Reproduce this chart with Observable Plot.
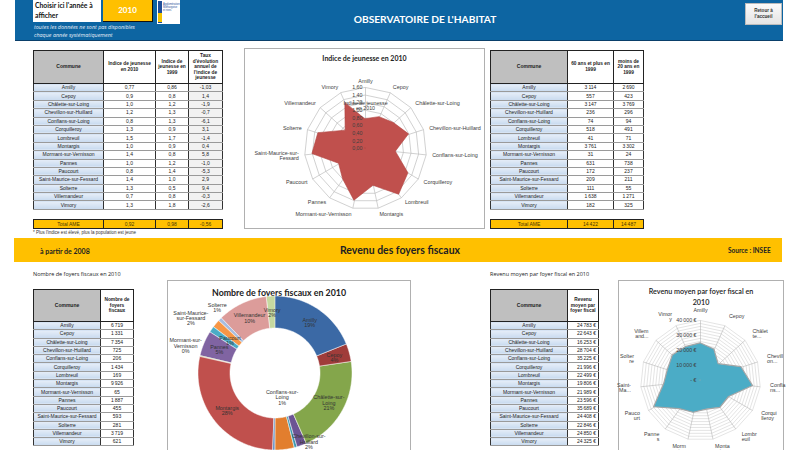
<!DOCTYPE html>
<html lang="fr"><head><meta charset="utf-8">
<script src="https://cdn.jsdelivr.net/npm/d3@7"></script>
<script src="https://cdn.jsdelivr.net/npm/@observablehq/plot@0.6"></script>
<style>
html,body{margin:0;padding:0}
body{width:800px;height:450px;overflow:hidden;position:relative;background:#fff;font-family:"Liberation Sans",Arial,sans-serif;color:#222}
.a{position:absolute}
#hdr{left:15px;top:0;width:768px;height:40px;background:#0d65a2;border-bottom:1.5px solid #0a3f6a}
#choose{left:33px;top:0;width:68px;height:22px;background:#fff;font:bold 6.8px Lato,sans-serif;line-height:9.5px;padding-left:2px;color:#111;box-sizing:border-box;padding-top:1px}
#year{left:103px;top:0;width:49px;height:21px;background:#ffc000;border-right:1.5px solid #111;border-bottom:1.5px solid #111;color:#fff;font:bold 8px Lato,sans-serif;text-align:center;line-height:21px}
#logo{left:157px;top:0;width:23px;height:24px;background:#fff}
#sub{left:34px;top:23px;color:#e6eef7;font:italic 5.4px "Open Sans",sans-serif;line-height:8px}
#title{left:300px;top:13px;width:250px;text-align:center;color:#fff;font:bold 10.2px Lato,sans-serif}
#ret{left:745px;top:3px;width:37px;height:22px;background:linear-gradient(#fafafa,#e4e4e4);border:0.5px solid #bbb;font:bold 4.6px "Liberation Sans",sans-serif;text-align:center;line-height:6px;box-sizing:border-box;padding-top:4px;color:#333}
#band{left:14px;top:238px;width:768px;height:24px;background:#ffc000}
.box{border:1px solid #b0b0b0;box-sizing:border-box;background:#fff}
.ttl{font-family:Lato,sans-serif;font-weight:bold;color:#222;text-align:center}
.tbl{position:absolute;border-collapse:collapse;table-layout:fixed;font-family:"Liberation Sans Narrow","Liberation Sans",Arial,sans-serif;font-size:5px;color:#222;border:1.5px solid #222}
.tbl td,.tbl th{padding:0 1px;overflow:hidden;line-height:1;}
.tbl th{font-weight:bold;white-space:normal;background:#fff;border:1px solid #222;font-size:4.8px;line-height:5.6px}
.tbl th.c{background:#bfbfbf;font-size:5px}
.tbl td{border-left:1px solid #333;border-right:1px solid #333;border-bottom:0.6px solid #9a9a9a;text-align:center;background:#fff;white-space:nowrap}
.tbl td.c{background:linear-gradient(#e6eef8,#c8daef)}
.tbl td.g{background:#f2f2f2}
.tbl td.r{text-align:right;padding-right:2px}
.tot td{background:#ffc000 !important;color:#4a3800;border:1px solid #222}
.lab{font:5.5px "Open Sans",sans-serif;color:#222}
</style></head><body>
<div id="hdr" class="a"></div>
<div id="choose" class="a">Choisir ici l'année à<br>afficher</div>
<div id="year" class="a">2010</div>
<div id="logo" class="a"><svg width="23" height="24"><rect x="1" y="1" width="4" height="22" fill="#1f4e9a"/><rect x="1" y="13" width="4" height="9" fill="#f5c400"/><text x="6" y="5" font-size="2.6" fill="#1f4e9a" font-family="Liberation Sans">Agglomération</text><text x="6" y="8" font-size="2.6" fill="#1f4e9a" font-family="Liberation Sans">Montargoise</text><text x="6" y="11" font-size="2.6" fill="#1f4e9a" font-family="Liberation Sans">et rives</text></svg></div>
<div id="sub" class="a">toutes les données ne sont pas disponibles<br>chaque année systématiquement</div>
<div id="title" class="a">OBSERVATOIRE DE L'HABITAT</div>
<div id="ret" class="a">Retour à<br>l'accueil</div>
<div id="band" class="a"></div>
<div class="a" style="left:40px;top:247px;font:bold 7px Lato,sans-serif;color:#222">à partir de 2008</div>
<div class="a ttl" style="left:300px;top:244px;width:200px;font-size:10.5px">Revenu des foyers fiscaux</div>
<div class="a" style="left:728px;top:247px;font:bold 6.5px Lato,sans-serif;color:#222">Source : INSEE</div>
<div class="a" style="left:33px;top:230px;font:4.5px 'Liberation Sans',sans-serif;color:#333">* Plus l'indice est élevé, plus la population est jeune</div>
<div class="a lab" style="left:33px;top:270px">Nombre de foyers fiscaux en 2010</div>
<div class="a lab" style="left:490px;top:270px">Revenu moyen par foyer fiscal en 2010</div>

<div id="box1" class="a box" style="left:244px;top:48px;width:241px;height:181px"></div>
<div class="a ttl" style="left:244px;top:54px;width:241px;font-size:7px">Indice de jeunesse en 2010</div>
<div id="box2" class="a box" style="left:167px;top:280px;width:244px;height:180px"></div>
<div class="a ttl" style="left:167px;top:287px;width:224px;font-size:8.8px">Nombre de foyers fiscaux en 2010</div>
<div id="box3" class="a box" style="left:618px;top:280px;width:166px;height:180px"></div>
<div class="a ttl" style="left:618px;top:286px;width:166px;font-size:7.2px;font-weight:600;line-height:11px">Revenu moyen par foyer fiscal en<br>2010</div>

<script>
// ---------------- DATA ----------------
const communes = ["Amilly","Cepoy","Châlette-sur-Loing","Chevillon-sur-Huillard","Conflans-sur-Loing","Corquilleroy","Lombreuil","Montargis","Mormant-sur-Vernisson","Pannes","Paucourt","Saint-Maurice-sur-Fessard","Solterre","Villemandeur","Vimory"];
const indice2010 = [0.77,0.9,1.0,1.2,0.8,1.3,1.5,1.0,1.4,1.0,0.8,1.4,1.3,0.7,1.3];
const indice1999 = [0.86,0.8,1.2,1.3,1.3,0.9,1.7,0.9,0.8,1.2,1.4,1.0,0.5,0.8,1.8];
const tauxEvolution = [-1.03,1.4,-1.9,-0.7,-6.1,3.1,-1.4,0.4,5.8,-1.0,-5.3,2.9,9.4,-0.3,-2.6];
const totalIndice = [0.92,0.98,-0.56];
const plus60ans1999 = [3114,557,3147,236,74,518,41,3761,31,631,172,209,111,1638,182];
const moins20ans1999 = [2690,423,3769,296,94,491,71,3302,24,738,237,211,55,1271,325];
const totalAges = [14422,14487];
const foyersFiscaux2010 = [6719,1331,7354,725,206,1434,169,9926,65,1887,455,593,281,3719,621];
const revenuMoyen2010 = [24783,22643,16253,28704,35225,21996,22499,19806,21989,23596,35689,24408,22846,24850,24325];
const indiceTicks = [0,0.2,0.4,0.6,0.8,1.0,1.2,1.4,1.6];
const revenuTickLabels = [0,10000,20000,30000,40000];
const revenuGrid = [2000,4000,6000,8000,10000,12000,14000,16000,18000,20000,22000,24000,26000,28000,30000,32000,34000,36000,38000,40000];
const revenuAxisLabels = ["Amilly","Cepoy","Châlet\nte...","Chevill\non...","Confla\nns...","Corqui\nlleroy","Lombr\neuil","Monta\nrgis","Morm\nant-...","Panne\ns","Pauco\nurt","Saint-\nMa...","Solter\nre","Villem\nand...","Vimor\ny"];

// ---------------- FORMATS ----------------
const fr = d3.formatLocale({decimal: ",", thousands: "\u202f", grouping: [3], currency: ["", " €"]});
const fmtInt = fr.format(",d");
const fmt2 = fr.format(".2f");
const fmtDec = v => { const s = String(v); const d = s.includes(".") ? s.split(".")[1].length : 0; return v.toFixed(Math.max(1, d)).replace(".", ","); };
const fmtEur = v => v === 0 ? "- €" : fmtInt(v) + " €";

// ---------------- TABLES ----------------
function makeTable({left, top, widths, headers, rows, cls, headH, rowH}) {
  const t = document.createElement("table");
  t.className = "tbl";
  t.style.left = left + "px"; t.style.top = top + "px"; t.style.width = d3.sum(widths) + "px";
  let h = "<colgroup>" + widths.map(w => `<col style="width:${w}px">`).join("") + "</colgroup>";
  if (headers) h += `<tr style="height:${headH}px">` + headers.map((x, i) => `<th class="${i === 0 ? "c" : ""}">${x}</th>`).join("") + "</tr>";
  rows.forEach(r => { h += `<tr style="height:${rowH}px">` + r.map((v, i) => `<td class="${cls[i]}">${v}</td>`).join("") + "</tr>"; });
  t.innerHTML = h;
  document.body.appendChild(t);
  return t;
}
makeTable({left: 33, top: 50, widths: [70, 52, 33, 34], headH: 33, rowH: 8.4,
  headers: ["Commune", "Indice de jeunesse en 2010", "Indice de jeunesse en 1999", "Taux d'évolution annuel de l'indice de jeunesse"],
  cls: ["c", "", "", "g"],
  rows: communes.map((c, i) => [c, fmtDec(indice2010[i]), fmtDec(indice1999[i]), fmtDec(tauxEvolution[i])])});
makeTable({left: 33, top: 219, widths: [70, 52, 33, 34], rowH: 9, cls: ["", "", "", ""],
  rows: [["Total AME", ...totalIndice.map(fmtDec)]]}).classList.add("tot");
makeTable({left: 490, top: 50, widths: [77, 46, 30], headH: 33, rowH: 8.4,
  headers: ["Commune", "60 ans et plus en 1999", "moins de 20 ans en 1999"],
  cls: ["c", "", ""],
  rows: communes.map((c, i) => [c, fmtInt(plus60ans1999[i]), fmtInt(moins20ans1999[i])])});
makeTable({left: 490, top: 219, widths: [77, 46, 30], rowH: 9, cls: ["", "", ""],
  rows: [["Total AME", ...totalAges.map(fmtInt)]]}).classList.add("tot");
makeTable({left: 33, top: 289, widths: [67, 33], headH: 32, rowH: 8.3,
  headers: ["Commune", "Nombre de foyers fiscaux"], cls: ["c", ""],
  rows: communes.map((c, i) => [c, fmtInt(foyersFiscaux2010[i])])});
makeTable({left: 490, top: 289, widths: [77, 31], headH: 32, rowH: 8.3,
  headers: ["Commune", "Revenu moyen par foyer fiscal"], cls: ["c", "r"],
  rows: communes.map((c, i) => [c, fmtInt(revenuMoyen2010[i]) + " €"])});

// ---------------- POLAR HELPERS (Plot projection) ----------------
const N = communes.length;
const DEG = 0.01; // degrees of arc per pixel in the fitted projection
const lonOf = i => 180 - i * 360 / N;
const latOf = px => 90 - px * DEG;
function polar(width, height, marks, extra = {}) {
  return Plot.plot({
    width, height, margin: 0,
    projection: {type: "azimuthal-equidistant", rotate: [0, -90],
      domain: d3.geoCircle().center([0, 90]).radius(Math.min(width, height) / 2 * DEG)()},
    style: {fontFamily: "'Liberation Sans', Arial, sans-serif", color: "#333", background: "transparent", overflow: "visible"},
    ...extra, marks
  });
}
function wrapName(name, max) {
  const parts = name.match(/[^-]+-?/g); const lines = []; let cur = "";
  for (const p of parts) { if (cur && (cur + p).length > max) { lines.push(cur); cur = p; } else cur += p; }
  lines.push(cur); return lines.join("\n");
}
function spokeLabels(labels, radiusPx, fontSize) {
  const data = labels.map((text, i) => ({text, i, a: i * 360 / N}));
  const groups = [
    [data.filter(d => d.a < 6 || Math.abs(d.a - 180) < 6), "middle"],
    [data.filter(d => d.a >= 6 && d.a < 174), "start"],
    [data.filter(d => d.a > 186 && d.a < 354), "end"]
  ];
  return groups.map(([g, anchor]) => Plot.text(g, {x: d => lonOf(d.i), y: latOf(radiusPx), text: "text", textAnchor: anchor, fontSize, fill: "#404040"}));
}
function place(svg, left, top) {
  svg.style.position = "absolute"; svg.style.left = left + "px"; svg.style.top = top + "px";
  document.body.appendChild(svg);
}

// ---------------- RADAR 1 : Indice de jeunesse ----------------
{
  const r = d3.scaleLinear([0, 1.6], [0, 61]);
  const rows = communes.map((c, i) => ({c, i, v: indice2010[i]}));
  const ring = indiceTicks.filter(t => t > 0).flatMap(t => d3.range(N).map(i => ({t, i})));
  const svg = polar(240, 160, [
    Plot.line(ring, {x: d => lonOf(d.i), y: d => latOf(r(d.t)), z: "t", curve: "linear-closed", stroke: "#bdbdbd", strokeWidth: 0.7}),
    Plot.link(d3.range(N), {x1: lonOf, y1: latOf(r(1.6)), x2: 0, y2: 90, stroke: "#bdbdbd", strokeWidth: 0.7}),
    Plot.area(rows, {x1: d => lonOf(d.i), y1: d => latOf(r(d.v)), x2: 0, y2: 90, curve: "linear-closed", fill: "#c0504d", stroke: "#b0413e", strokeWidth: 0.6}),
    Plot.text(indiceTicks, {x: 180, y: t => latOf(r(t)), text: fmt2, textAnchor: "end", dx: -3, fontSize: 5.3, fill: "#404040"}),
    Plot.text(["Indice de jeunesse\nen 2010"], {x: 180, y: latOf(r(1.12)), text: d => d, fontSize: 5.3, fill: "#404040"}),
    ...spokeLabels(communes.map(c => wrapName(c, 22)), 67, 5.4)
  ]);
  place(svg, 245, 68);
}

// ---------------- DONUT : Nombre de foyers fiscaux ----------------
{
  const R = 77, r0 = 45;
  const total = d3.sum(foyersFiscaux2010);
  const arcs = d3.pie().sort(null).value(d => d)(foyersFiscaux2010).map((a, i) => ({...a, name: communes[i]}));
  const toDeg = rad => rad * 180 / Math.PI;
  const pts = arcs.flatMap(a => {
    const s = toDeg(a.startAngle), e = toDeg(a.endAngle), n = Math.max(2, Math.ceil(e - s) + 1);
    return d3.range(n).map(k => ({name: a.name, lon: 180 - (s + (e - s) * k / (n - 1))}));
  });
  const colors = ["#3b69a5","#a03c3a","#84a64b","#6c5494","#3b97b0","#e27e2e","#4f81bd","#c0504d","#9bbb59","#8064a2","#4bacc6","#f79646","#a7bde0","#dc9c9a","#c6d9a0"];
  // label placement (radius in px, angular shift in degrees) where the labels are pushed apart
  const labelPos = {"Conflans-sur-Loing": [25, 0], "Chevillon-sur-Huillard": [76, -6], "Corquilleroy": [100, 0], "Lombreuil": [100, 0],
    "Mormant-sur-Vernisson": [94, 4], "Paucourt": [56, 1], "Saint-Maurice-sur-Fessard": [101, -7], "Solterre": [88, 4]};
  const pos = a => labelPos[a.name] ?? [61, 0];
  const svg = polar(216, 180, [
    Plot.area(pts, {x1: "lon", y1: latOf(R), x2: "lon", y2: latOf(r0), z: "name", fill: "name", stroke: "#fff", strokeWidth: 0.5, curve: "linear"}),
    Plot.text(arcs, {
      x: a => 180 - toDeg((a.startAngle + a.endAngle) / 2) - pos(a)[1],
      y: a => latOf(pos(a)[0]),
      text: a => wrapName(a.name, 14) + "\n" + Math.round(a.data / total * 100) + "%",
      fontSize: 5.4, fill: "#333"
    })
  ], {color: {domain: communes, range: colors}});
  place(svg, 167, 283);
}

// ---------------- RADAR 2 : Revenu moyen ----------------
{
  const r = d3.scaleLinear([0, 40000], [0, 60]);
  const rows = communes.map((c, i) => ({c, i, v: revenuMoyen2010[i]}));
  const ring = revenuGrid.flatMap(t => d3.range(N).map(i => ({t, i})));
  const svg = polar(164, 160, [
    Plot.line(ring, {x: d => lonOf(d.i), y: d => latOf(r(d.t)), z: "t", curve: "linear-closed", stroke: "#c8c8c8", strokeWidth: 0.5}),
    Plot.link(d3.range(N), {x1: lonOf, y1: latOf(r(40000)), x2: 0, y2: 90, stroke: "#b5b5b5", strokeWidth: 0.6}),
    Plot.area(rows, {x1: d => lonOf(d.i), y1: d => latOf(r(d.v)), x2: 0, y2: 90, curve: "linear-closed", fill: "#4bacc6", stroke: "#a6a6a6", strokeWidth: 1.2}),
    Plot.text(revenuTickLabels, {x: 180, y: t => latOf(r(t)), text: fmtEur, textAnchor: "end", dx: -4, fontSize: 5.3, fill: "#404040"}),
    ...spokeLabels(revenuAxisLabels, 70, 5.3)
  ]);
  place(svg, 618, 300);
}
</script>
</body></html>
